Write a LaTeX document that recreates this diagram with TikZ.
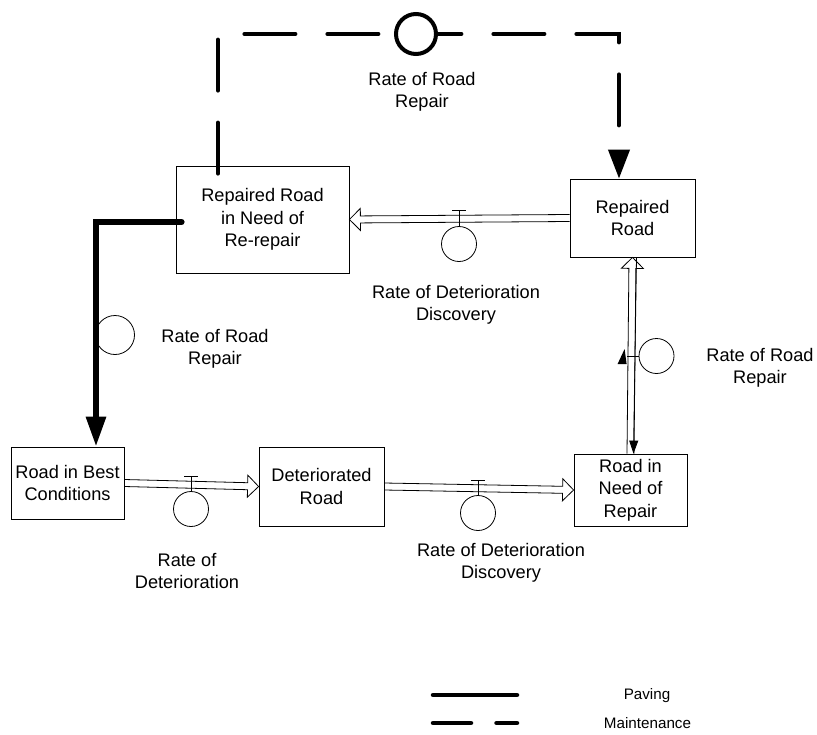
\documentclass[tikz,border=0pt]{standalone}
\usepackage{fontspec}
\setmainfont{Liberation Sans}
\usetikzlibrary{arrows.meta,calc}

\tikzset{
  stock/.style={draw, line width=0.8pt, align=center, inner sep=0pt, font=\fontsize{18.2}{22.4}\selectfont},
  lbl/.style={align=center, inner sep=0pt, font=\fontsize{18.2}{22.4}\selectfont},
  legendtext/.style={inner sep=0pt, font=\fontsize{15.2}{18}\selectfont},
  valve/.style={draw, circle, fill=white, minimum size=35pt, inner sep=0pt, line width=0.8pt},
  pipe/.style={line width=0.8pt, line join=miter},
  paving/.style={line width=6pt, line cap=round, -{Triangle[length=30pt,width=19pt]}},
  maint/.style={line width=4pt, line cap=round, dash pattern=on 51pt off 32pt, -{Triangle[length=29pt,width=21pt]}},
}

% hollow flow pipe from #1 to #2
\newcommand{\flowpipe}[2]{%
  \coordinate (pb) at ($(#2)!11pt!(#1)$);
  \draw[pipe] ($(#1)!3.5pt!-90:(#2)$) -- ($(pb)!3.5pt!90:(#1)$) -- ($(pb)!11pt!90:(#1)$)
    -- (#2) -- ($(pb)!11pt!-90:(#1)$) -- ($(pb)!3.5pt!-90:(#1)$) -- ($(#1)!3.5pt!90:(#2)$);
}

\begin{document}
\begin{tikzpicture}[x=1pt, y=-1pt]
  \useasboundingbox (0,0) rectangle (817,734);

  % === Stocks ===
  \node[stock, minimum width=173pt, minimum height=107pt] (rerep) at (262.5,219.5) {Repaired Road\\in Need of\\Re-repair};
  \node[stock, minimum width=125pt, minimum height=78pt] (repaired) at (632.5,218) {Repaired\\Road};
  \node[stock, minimum width=113pt, minimum height=72pt] (best) at (67.5,483) {Road in Best\\Conditions};
  \node[stock, minimum width=125pt, minimum height=79pt] (det) at (321.5,486.5) {Deteriorated\\Road};
  \node[stock, minimum width=113pt, minimum height=72pt] (need) at (630.5,490) {Road in\\Need of\\Repair};

  % === Flows ===
  \flowpipe{best.east}{det.west}
  \flowpipe{det.east}{need.west}
  \flowpipe{repaired.west}{rerep.east}
  \flowpipe{need.north}{repaired.south}

  \node[valve] (vdet) at (191,509) {};
  \draw[pipe] (vdet.north) -- ++(0,-14.5) ++(-7,0) -- ++(14,0);
  \node[valve] (vdisc) at (478,513) {};
  \draw[pipe] (vdisc.north) -- ++(0,-14.5) ++(-7,0) -- ++(14,0);
  \node[valve] (vdisc2) at (459,244) {};
  \draw[pipe] (vdisc2.north) -- ++(0,-15.5) ++(-7,0) -- ++(14,0);
  \node[valve] (vrep) at (656.5,356) {};
  \draw[pipe] (vrep.west) -- ++(-12,0);
  \fill (vrep.west) ++(-14,-7) -- ++(-7,15) -- ++(9,0) -- cycle;
  \draw[pipe, -{Triangle[length=13pt,width=9pt]}] ([xshift=4pt]repaired.south) -- ([xshift=3pt]need.north);

  % === Paving ===
  \node[valve, minimum size=39pt] (vpave) at (115,335) {};
  \draw[paving] ([xshift=6pt,yshift=-2.5pt]rerep.west) -| ([xshift=28.5pt]best.north);

  % === Maintenance ===
  \coordinate (mv) at (416,34);
  \draw[maint] ([xshift=-44.5pt,yshift=-8pt]rerep.north) |- (mv) -| ([xshift=-13.5pt]repaired.north);
  \node[valve, line width=4pt, minimum size=40pt] (vmaint) at (mv) {};

  % === Labels ===
  \node[lbl] (lmaint) at (422,91.5) {Rate of Road\\Repair};
  \node[lbl] (ldisc2) at (456,305) {Rate of Deterioration\\Discovery};
  \node[lbl] (lpave) at (215,348.5) {Rate of Road\\Repair};
  \node[lbl] (lrep) at (760,368) {Rate of Road\\Repair};
  \node[lbl] (ldet) at (187,571) {Rate of\\Deterioration};
  \node[lbl] (ldisc) at (501,562.5) {Rate of Deterioration\\Discovery};

  % === Legend ===
  \coordinate (pavA) at (433,695);
  \coordinate (pavB) at (517,695);
  \coordinate (mntA) at (433,723);
  \coordinate (mntB) at (517,723);
  \draw[line width=4.5pt, line cap=round] (pavA) -- (pavB);
  \draw[line width=4.5pt, line cap=round, dash pattern=on 38pt off 25.5pt] (mntA) -- (mntB);
  \node[legendtext] (lgpave) at (647,696) {Paving};
  \node[legendtext] (lgmaint) at (647.5,723) {Maintenance};
\end{tikzpicture}
\end{document}
